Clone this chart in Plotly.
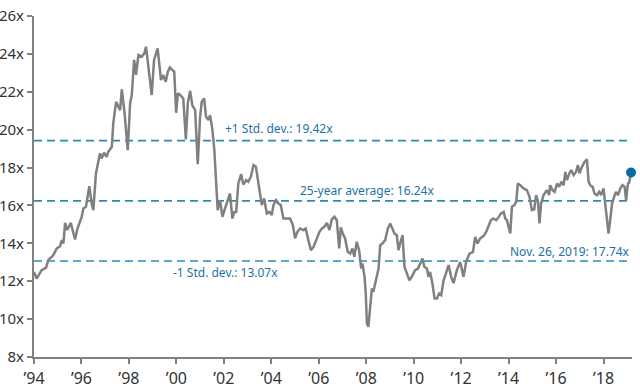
import plotly.graph_objects as go

# Forward P/E series (decimal year, multiple)
years = [
    1994.00, 1994.11, 1994.32, 1994.51, 1994.60, 1994.81, 1994.96, 1995.10, 1995.17, 1995.24,
    1995.31, 1995.40, 1995.55, 1995.63, 1995.73, 1995.83, 1996.01, 1996.08, 1996.19, 1996.33,
    1996.43, 1996.50, 1996.61, 1996.71, 1996.78, 1996.85, 1996.95, 1997.06, 1997.13, 1997.28,
    1997.34, 1997.46, 1997.63, 1997.70, 1997.81, 1997.95, 1998.05, 1998.12, 1998.22, 1998.30,
    1998.40, 1998.54, 1998.65, 1998.72, 1998.79, 1998.89, 1998.96, 1999.06, 1999.14, 1999.21,
    1999.27, 1999.35, 1999.45, 1999.55, 1999.64, 1999.73, 1999.83, 1999.91, 1999.99, 2000.06,
    2000.16, 2000.29, 2000.40, 2000.48, 2000.58, 2000.67, 2000.79, 2000.90, 2001.00, 2001.07,
    2001.17, 2001.25, 2001.35, 2001.42, 2001.52, 2001.60, 2001.67, 2001.74, 2001.84, 2001.94,
    2002.05, 2002.17, 2002.26, 2002.36, 2002.44, 2002.52, 2002.61, 2002.73, 2002.82, 2002.94,
    2003.03, 2003.14, 2003.25, 2003.35, 2003.46, 2003.60, 2003.70, 2003.81, 2003.92, 2004.02,
    2004.09, 2004.20, 2004.30, 2004.40, 2004.51, 2004.65, 2004.79, 2004.91, 2005.00, 2005.10,
    2005.21, 2005.35, 2005.45, 2005.56, 2005.67, 2005.78, 2005.89, 2006.03, 2006.13, 2006.23,
    2006.34, 2006.45, 2006.55, 2006.66, 2006.76, 2006.86, 2006.93, 2007.01, 2007.11, 2007.22,
    2007.32, 2007.42, 2007.50, 2007.60, 2007.70, 2007.79, 2007.84, 2007.93, 2007.98, 2008.03,
    2008.09, 2008.17, 2008.24, 2008.30, 2008.41, 2008.52, 2008.59, 2008.68, 2008.80, 2008.91,
    2009.01, 2009.11, 2009.19, 2009.29, 2009.36, 2009.43, 2009.53, 2009.61, 2009.71, 2009.82,
    2009.92, 2010.06, 2010.18, 2010.27, 2010.37, 2010.45, 2010.56, 2010.62, 2010.69, 2010.79,
    2010.88, 2010.98, 2011.07, 2011.16, 2011.26, 2011.36, 2011.47, 2011.58, 2011.68, 2011.82,
    2011.96, 2012.10, 2012.21, 2012.35, 2012.50, 2012.59, 2012.69, 2012.80, 2012.94, 2013.06,
    2013.15, 2013.25, 2013.36, 2013.48, 2013.57, 2013.68, 2013.79, 2013.86, 2013.93, 2014.00,
    2014.07, 2014.14, 2014.24, 2014.32, 2014.39, 2014.49, 2014.63, 2014.77, 2014.88, 2014.98,
    2015.08, 2015.16, 2015.24, 2015.30, 2015.37, 2015.47, 2015.61, 2015.71, 2015.75, 2015.85,
    2015.94, 2016.04, 2016.13, 2016.22, 2016.32, 2016.39, 2016.46, 2016.56, 2016.64, 2016.74,
    2016.84, 2016.92, 2016.99, 2017.09, 2017.20, 2017.30, 2017.37, 2017.44, 2017.54, 2017.62,
    2017.72, 2017.82, 2017.90, 2018.00, 2018.07, 2018.16, 2018.21, 2018.28, 2018.36, 2018.45,
    2018.52, 2018.61, 2018.71, 2018.80, 2018.89, 2018.95, 2019.03, 2019.08, 2019.16,
]
pe = [
    12.49, 12.14, 12.58, 12.72, 13.11, 13.37, 13.73, 13.85, 14.17, 13.99,
    15.08, 14.70, 15.08, 14.70, 14.20, 14.78, 15.40, 15.84, 15.93, 17.02,
    16.10, 15.75, 17.69, 18.30, 18.75, 18.48, 18.78, 18.57, 18.83, 19.10,
    20.33, 21.47, 21.03, 22.13, 20.95, 18.92, 21.39, 21.83, 23.68, 22.90,
    23.94, 23.85, 24.03, 24.38, 23.68, 22.79, 21.83, 23.68, 24.03, 24.29,
    23.59, 22.62, 22.88, 22.53, 23.06, 23.29, 23.15, 23.06, 20.89, 21.92,
    21.83, 21.65, 19.49, 21.39, 22.05, 21.30, 21.03, 18.18, 20.68, 21.47,
    21.65, 20.68, 20.51, 20.77, 19.98, 18.92, 17.34, 15.75, 16.28, 15.40,
    15.84, 16.28, 16.63, 15.31, 15.66, 15.66, 17.16, 17.65, 17.10, 17.34,
    17.25, 17.51, 18.13, 18.04, 17.16, 16.02, 16.37, 15.58, 15.66, 15.49,
    16.02, 16.28, 16.10, 16.02, 15.31, 15.31, 15.31, 14.96, 14.26, 14.61,
    14.78, 14.70, 14.78, 14.17, 13.64, 13.81, 14.17, 14.61, 14.78, 14.87,
    15.08, 14.70, 15.26, 15.40, 15.22, 13.73, 14.84, 14.52, 14.26, 13.55,
    13.46, 13.73, 13.29, 14.08, 13.64, 12.67, 12.94, 12.23, 11.35, 9.77,
    9.59, 10.64, 11.62, 11.44, 12.05, 12.67, 13.90, 13.99, 14.17, 14.78,
    15.05, 14.78, 14.52, 14.43, 13.64, 13.99, 14.43, 12.76, 12.41, 12.05,
    12.23, 12.58, 12.67, 12.94, 13.20, 12.76, 12.67, 12.23, 12.49, 11.88,
    11.09, 11.09, 11.35, 11.26, 12.05, 12.41, 12.85, 12.23, 11.90, 12.58,
    13.02, 12.23, 13.02, 13.46, 13.55, 14.34, 13.99, 14.26, 14.38, 14.61,
    14.87, 15.22, 15.31, 15.22, 15.37, 15.58, 15.66, 15.31, 15.22, 14.87,
    14.52, 15.93, 16.02, 16.19, 17.16, 17.07, 16.90, 16.81, 16.46, 15.75,
    15.79, 16.54, 16.19, 15.05, 16.10, 16.54, 16.81, 16.55, 17.07, 16.81,
    16.72, 17.16, 16.98, 17.25, 17.07, 17.77, 17.34, 17.69, 17.87, 17.60,
    17.77, 18.13, 17.69, 18.04, 18.30, 18.43, 17.25, 17.07, 16.98, 16.63,
    16.54, 16.72, 16.54, 16.90, 16.19, 15.22, 14.52, 15.22, 16.10, 16.46,
    16.72, 16.54, 16.90, 17.07, 16.98, 16.28, 17.16, 17.20, 17.74,
]

ref_levels = [19.42, 16.24, 13.07]
ref_labels = ["+1 Std. dev.: 19.42x", "25-year average: 16.24x", "-1 Std. dev.: 13.07x"]
ref_label_x = [2001.97, 2005.13, 1999.78]
ref_label_y = [20.08, 16.81, 12.44]

last_label = "Nov. 26, 2019: 17.74x"
last_label_y = 13.59

x_range = [1994.0, 2019.2]
y_range = [8, 26]
x_tickvals = list(range(1994, 2019, 2))
x_ticktext = ["’94", "’96", "’98", "’00", "’02", "’04", "’06", "’08", "’10", "’12", "’14", "’16", "’18"]
y_tickvals = list(range(8, 27, 2))
y_ticktext = [f"{v}x" for v in y_tickvals]

DASH_COLOR = "#2a8cb3"
TEXT_COLOR = "#1b72a6"
LINE_COLOR = "#808080"
DOT_COLOR = "#0a6aa1"
FONT = "Noto Sans"

fig = go.Figure()

for lvl in ref_levels:
    fig.add_trace(go.Scatter(
        x=x_range, y=[lvl, lvl], mode="lines",
        line=dict(color=DASH_COLOR, width=1.6, dash="8px,5px"),
        hoverinfo="skip", showlegend=False,
    ))

fig.add_trace(go.Scatter(
    x=years, y=pe, mode="lines",
    line=dict(color=LINE_COLOR, width=2.5),
    showlegend=False,
))

fig.add_trace(go.Scatter(
    x=[years[-1]], y=[pe[-1]], mode="markers",
    marker=dict(color=DOT_COLOR, size=10),
    cliponaxis=False, showlegend=False,
))

for txt, ax, ay in zip(ref_labels, ref_label_x, ref_label_y):
    fig.add_annotation(x=ax, y=ay, text=txt, showarrow=False, xanchor="left",
                       yanchor="middle", font=dict(family=FONT, size=12, color=TEXT_COLOR))

fig.add_annotation(x=x_range[1], y=last_label_y, text=last_label, showarrow=False,
                   xanchor="right", yanchor="middle",
                   font=dict(family=FONT, size=12, color=TEXT_COLOR))

fig.update_layout(
    width=640, height=390, autosize=False,
    margin=dict(l=34, r=8, t=16, b=33),
    paper_bgcolor="white", plot_bgcolor="white",
    font=dict(family=FONT, size=15, color="#333333"),
    xaxis=dict(range=x_range, tickvals=x_tickvals, ticktext=x_ticktext, automargin=False,
               showgrid=False, zeroline=False, showline=True, linecolor=LINE_COLOR,
               linewidth=2, ticks="outside", tickcolor=LINE_COLOR, ticklen=5, tickwidth=1.5,
               ticklabelstandoff=1, tickfont=dict(family=FONT, size=16, color="#333333")),
    yaxis=dict(range=y_range, tickvals=y_tickvals, ticktext=y_ticktext, automargin=False,
               showgrid=False, zeroline=False, showline=True, linecolor=LINE_COLOR,
               linewidth=2, ticks="outside", tickcolor=LINE_COLOR, ticklen=5, tickwidth=1.5,
               tickfont=dict(family=FONT, size=15, color="#333333")),
)

fig.write_html(
    "out.html",
    config={"displayModeBar": False},
    post_script="document.body.style.margin='0';document.body.style.overflow='hidden';",
)
